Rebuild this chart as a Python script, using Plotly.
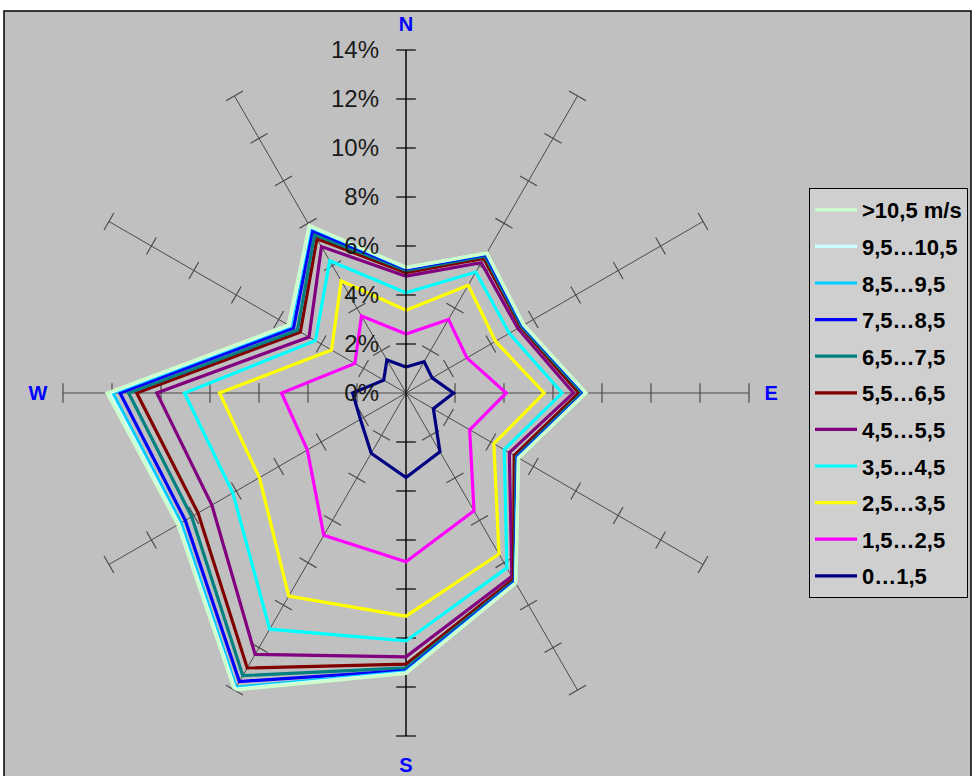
import plotly.graph_objects as go

# Wind directions, clockwise from north (degrees)
directions = [0, 30, 60, 90, 120, 150, 180, 210, 240, 270, 300, 330]
compass_labels = ["N", "", "", "E", "", "", "S", "", "", "W", "", ""]

# Cumulative frequency (%) per wind-speed class, one value per direction
speed_classes = ["0…1,5", "1,5…2,5", "2,5…3,5", "3,5…4,5", "4,5…5,5",
                 "5,5…6,5", "6,5…7,5", "7,5…8,5", "8,5…9,5", "9,5…10,5",
                 ">10,5 m/s"]
cls_0_1_5 = [1.06, 1.48, 1.23, 1.94, 1.29, 2.77, 3.45, 2.84, 2.15, 2.18, 1.05, 1.56]
cls_1_5_2_5 = [2.41, 3.47, 2.87, 4.09, 3.00, 5.55, 6.89, 6.71, 4.65, 5.08, 2.41, 3.63]
cls_2_5_3_5 = [3.38, 5.08, 4.22, 5.64, 4.14, 7.59, 9.11, 9.57, 6.91, 7.61, 3.51, 5.29]
cls_3_5_4_5 = [4.09, 5.70, 4.87, 6.37, 4.63, 8.24, 10.12, 11.13, 8.16, 9.04, 4.27, 6.23]
cls_4_5_5_5 = [4.77, 6.14, 5.27, 6.84, 4.87, 8.64, 10.77, 12.32, 9.15, 10.17, 4.57, 6.90]
cls_5_5_6_5 = [4.91, 6.34, 5.40, 7.05, 5.10, 8.77, 11.07, 12.96, 9.80, 10.99, 4.98, 7.27]
cls_6_5_7_5 = [5.00, 6.45, 5.45, 7.19, 5.20, 8.85, 11.22, 13.32, 10.10, 11.32, 5.12, 7.46]
cls_7_5_8_5 = [5.06, 6.52, 5.50, 7.28, 5.25, 8.90, 11.33, 13.60, 10.40, 11.67, 5.30, 7.65]
cls_8_5_9_5 = [5.10, 6.57, 5.53, 7.32, 5.28, 8.93, 11.38, 13.87, 10.60, 11.97, 5.45, 7.81]
cls_9_5_10_5 = [5.12, 6.59, 5.55, 7.34, 5.30, 8.95, 11.42, 13.95, 10.70, 12.10, 5.50, 7.86]
cls_over_10_5 = [5.13, 6.60, 5.56, 7.35, 5.31, 8.96, 11.45, 14.00, 10.75, 12.20, 5.55, 7.90]

series = [cls_0_1_5, cls_1_5_2_5, cls_2_5_3_5, cls_3_5_4_5, cls_4_5_5_5,
          cls_5_5_6_5, cls_6_5_7_5, cls_7_5_8_5, cls_8_5_9_5, cls_9_5_10_5,
          cls_over_10_5]
colors = ["#000080", "#FF00FF", "#FFFF00", "#00FFFF", "#800080",
          "#800000", "#008080", "#0000FF", "#00CCFF", "#CCFFFF", "#CCFFCC"]

radial_ticks = [0, 2, 4, 6, 8, 10, 12, 14]
radial_labels = [f"{v}%" for v in radial_ticks]

W, H = 972, 776
cx, cy, R = 406, 393, 343  # centre and outer radius of the rose, px

fig = go.Figure()

# tick marks across every spoke
for d in directions:
    tick_color = "#000000" if d in (0, 180) else "#4a4a4a"
    fig.add_trace(go.Scatterpolar(
        r=radial_ticks[1:], theta=[d] * (len(radial_ticks) - 1),
        mode="markers",
        marker=dict(symbol="line-ew", size=14, angle=d,
                    line=dict(width=1.2, color=tick_color)),
        showlegend=False, hoverinfo="skip", cliponaxis=False))

# southern half of the value axis, drawn black like the northern half
fig.add_trace(go.Scatterpolar(
    r=[0, radial_ticks[-1]], theta=[180, 180], mode="lines",
    line=dict(color="#000000", width=1.2),
    showlegend=False, hoverinfo="skip", cliponaxis=False))

n = len(speed_classes)
for i, (name, vals, col) in enumerate(zip(speed_classes, series, colors)):
    fig.add_trace(go.Scatterpolar(
        r=vals + vals[:1], theta=directions + directions[:1],
        mode="lines", name="<b>" + name + "</b>",
        line=dict(color=col, width=3.2),
        legendgroup=f"g{i}", legendrank=100 * (n - i),
        cliponaxis=False))

fig.update_layout(
    width=W, height=H,
    margin=dict(l=0, r=0, t=0, b=0),
    paper_bgcolor="#FFFFFF",
    font=dict(family="Liberation Sans, Arial, sans-serif", color="#000000"),
    polar=dict(
        domain=dict(x=[(cx - R) / W, (cx + R) / W],
                    y=[(H - cy - R) / H, (H - cy + R) / H]),
        bgcolor="rgba(0,0,0,0)",
        radialaxis=dict(
            range=[0, 14], angle=90, side="counterclockwise",
            tickmode="array", tickvals=radial_ticks, ticktext=radial_labels,
            tickangle=90,
            ticks="outside", ticklen=18, tickcolor="rgba(0,0,0,0)",
            tickfont=dict(size=24, color="#1a1a1a"),
            showline=True, linecolor="#000000", linewidth=1.2,
            showgrid=False),
        angularaxis=dict(
            rotation=90, direction="clockwise",
            tickvals=directions,
            ticktext=[f"<b>{t}</b>" if t else "" for t in compass_labels],
            tickfont=dict(size=20, color="#0000FF"),
            ticks="outside", ticklen=11, tickcolor="rgba(0,0,0,0)",
            showline=False, showgrid=True,
            gridcolor="#4a4a4a", gridwidth=1),
    ),
    legend=dict(
        x=809 / W, y=1 - 188 / H, xanchor="left", yanchor="top",
        traceorder="grouped", tracegroupgap=5, itemwidth=42,
        bgcolor="#CFCFCF", bordercolor="#000000", borderwidth=1,
        font=dict(size=22, color="#000000")),
    shapes=[dict(type="rect", xref="paper", yref="paper",
                 x0=4 / W, x1=971 / W, y0=-0.05, y1=1 - 11 / H,
                 fillcolor="#C0C0C0", line=dict(color="#000000", width=1.5),
                 layer="below")],
)

fig.write_html("out.html")
